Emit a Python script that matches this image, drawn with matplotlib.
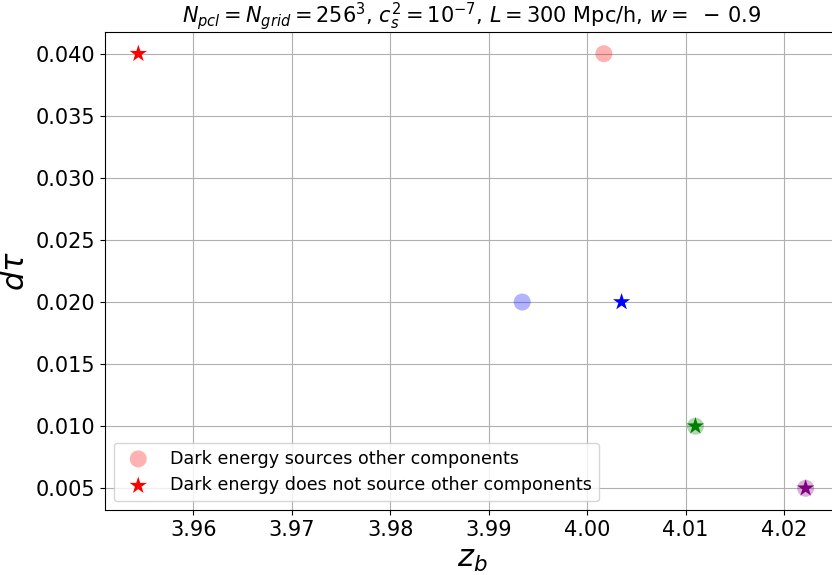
import matplotlib
matplotlib.use('Agg')
import matplotlib.pyplot as plt

# Datos: z_b y dtau para cada caso
colores = ['red', 'blue', 'green', 'purple']
dtau = [0.040, 0.020, 0.010, 0.005]
zb_sources = [4.0017, 3.9934, 4.0110, 4.0222]      # dark energy sources other components
zb_nosources = [3.9544, 4.0035, 4.0110, 4.0222]    # dark energy does not source

fig = plt.figure(figsize=(8.32, 5.75), dpi=100)
ax = fig.add_axes([105/832, 1 - 510/575, (839 - 105)/832, (510 - 32)/575])

for i in range(len(dtau)):
    ax.scatter(zb_sources[i], dtau[i], s=150, color=colores[i], alpha=0.3, edgecolors='none',
               label='Dark energy sources other components' if i == 0 else None)
    ax.scatter(zb_nosources[i], dtau[i], s=170, marker='*', color=colores[i], edgecolors='none',
               label='Dark energy does not source other components' if i == 0 else None)

ax.grid(True, color='#b0b0b0')
ax.set_axisbelow(True)
ax.tick_params(labelsize=15)
ax.set_xlabel(r'$z_b$', fontsize=22)
ax.set_ylabel(r'$d\tau$', fontsize=22)
ax.set_title(r'$N_{pcl} = N_{grid} = 256^3$, $c_s^2 = 10^{-7}$, $L = 300$ Mpc/h, $w = \ -\,0.9$',
             fontsize=15)
ax.legend(loc='lower left', fontsize=12.6)

fig.savefig('out.png', dpi=100)
